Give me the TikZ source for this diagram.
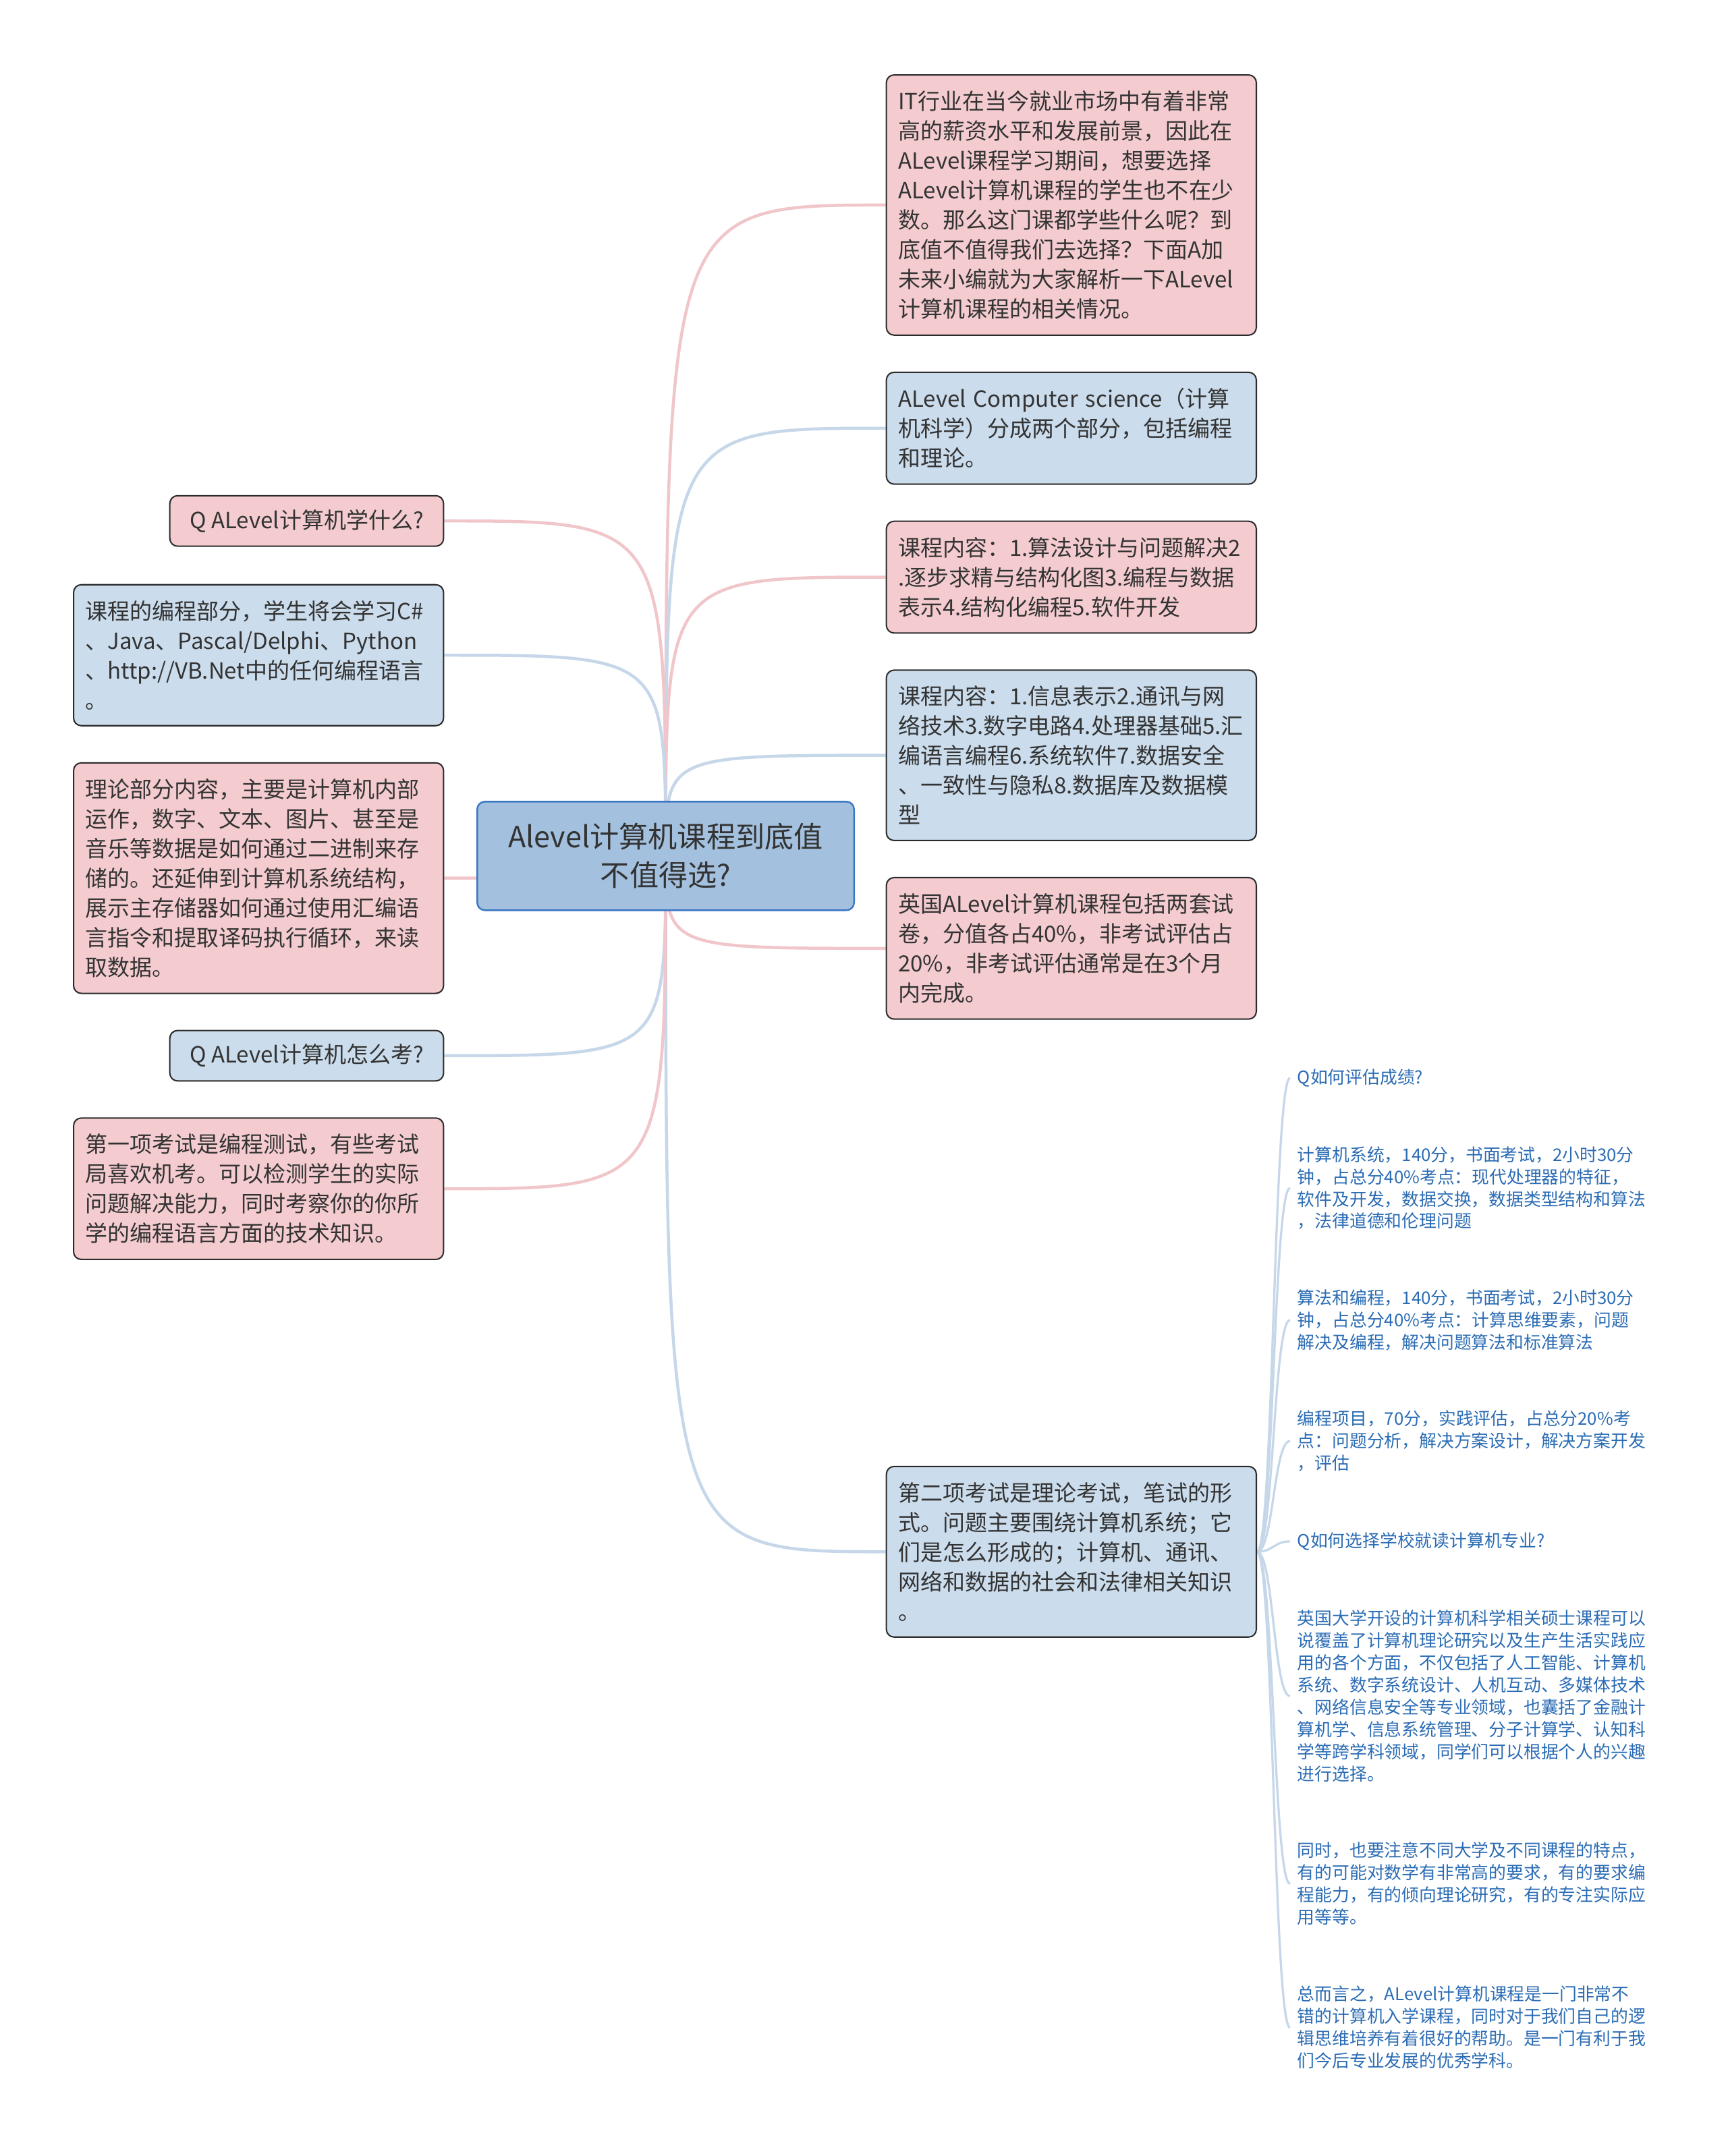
\documentclass[tikz,border=0pt]{standalone}
\usepackage{fontspec}
\setmainfont{Noto Sans CJK SC}
\usetikzlibrary{positioning, backgrounds}
\definecolor{pinkfill}{HTML}{F4CCCF}
\definecolor{bluefill}{HTML}{CBDCEC}
\definecolor{rootfill}{HTML}{A3C0DE}
\definecolor{rootline}{HTML}{3B77C4}
\definecolor{boxline}{HTML}{2B2B2B}
\definecolor{textdark}{HTML}{333333}
\definecolor{leafblue}{HTML}{2B6CB4}
\definecolor{pinkline}{HTML}{F0C6CA}
\definecolor{blueline}{HTML}{C5D7E9}

\begin{document}
\begin{tikzpicture}
    [
        x=0.5pt, y=-0.5pt, node distance=13pt,
        pink_box/.style={rectangle, rounded corners=2.8pt, draw=boxline, line width=0.5pt, fill=pinkfill, text=textdark, inner xsep=4.25pt, inner ysep=5pt, font=\fontsize{8.1pt}{10.8pt}\selectfont},
        blue_box/.style={pink_box, fill=bluefill},
        text_box/.style={text width=126pt, align=left, inner ysep=5.75pt},
        q_box/.style={minimum width=99.5pt},
        root_node/.style={rectangle, rounded corners=2.8pt, draw=rootline, line width=0.6pt, fill=rootfill, text=textdark, minimum width=137pt, minimum height=39.5pt, align=center, font=\fontsize{10.6pt}{14pt}\selectfont},
        leaf_node/.style={anchor=west, text=leafblue, inner xsep=2.5pt, inner ysep=0pt, text width=128pt, align=left, font=\fontsize{6.33pt}{8.07pt}\selectfont},
        pink_link/.style={draw=pinkline, line width=1.1pt},
        blue_link/.style={draw=blueline, line width=1.1pt},
        sub_link/.style={draw=blueline, line width=0.8pt},
    ]
        \useasboundingbox (0,0) rectangle (1256,1568) ;
        \node[root_node] (root) at (484,622.5) {Alevel计算机课程到底值\\不值得选?} ;
        \node[pink_box, text_box, anchor=north west] (it) at (644,54) {IT行业在当今就业市场中有着非常\\高的薪资水平和发展前景，因此在\\ALevel课程学习期间，想要选择\\ALevel计算机课程的学生也不在少\\数。那么这门课都学些什么呢？到\\底值不值得我们去选择？下面A加\\未来小编就为大家解析一下ALevel\\计算机课程的相关情况。} ;
        \node[blue_box, text_box] (cs) [below right=13pt and 0pt of it.south west] {ALevel Computer science（计算\\机科学）分成两个部分，包括编程\\和理论。} ;
        \node[pink_box, text_box] (c1) [below right=13pt and 0pt of cs.south west] {课程内容：1.算法设计与问题解决2\\.逐步求精与结构化图3.编程与数据\\表示4.结构化编程5.软件开发} ;
        \node[blue_box, text_box] (c2) [below right=13pt and 0pt of c1.south west] {课程内容：1.信息表示2.通讯与网\\络技术3.数字电路4.处理器基础5.汇\\编语言编程6.系统软件7.数据安全\\、一致性与隐私8.数据库及数据模\\型} ;
        \node[pink_box, text_box] (uk) [below right=13pt and 0pt of c2.south west] {英国ALevel计算机课程包括两套试\\卷，分值各占40\%，非考试评估占\\20\%，非考试评估通常是在3个月\\内完成。} ;
        \node[blue_box, text_box, anchor=north west] (ex2) at (644,1066) {第二项考试是理论考试，笔试的形\\式。问题主要围绕计算机系统；它\\们是怎么形成的；计算机、通讯、\\网络和数据的社会和法律相关知识\\。} ;
        \node[pink_box, q_box, anchor=north east] (q1) at (323,360) {Q ALevel计算机学什么?} ;
        \node[blue_box, text_box] (prog) [below left=13.5pt and 0pt of q1.south east] {课程的编程部分，学生将会学习C\#\\、Java、Pascal/Delphi、Python\\、http://VB.Net中的任何编程语言\\。} ;
        \node[pink_box, text_box] (theory) [below left=13pt and 0pt of prog.south east] {理论部分内容，主要是计算机内部\\运作，数字、文本、图片、甚至是\\音乐等数据是如何通过二进制来存\\储的。还延伸到计算机系统结构，\\展示主存储器如何通过使用汇编语\\言指令和提取译码执行循环，来读\\取数据。} ;
        \node[blue_box, q_box] (q2) [below left=13pt and 0pt of theory.south east] {Q ALevel计算机怎么考?} ;
        \node[pink_box, text_box] (ex1) [below left=13pt and 0pt of q2.south east] {第一项考试是编程测试，有些考试\\局喜欢机考。可以检测学生的实际\\问题解决能力，同时考察你的你所\\学的编程语言方面的技术知识。} ;
        \node[leaf_node] (l1) at (938,784) {Q如何评估成绩?} ;
        \node[leaf_node] (l2) at (938,864) {计算机系统，140分，书面考试，2小时30分\\钟，占总分40\%考点：现代处理器的特征，\\软件及开发，数据交换，数据类型结构和算法\\，法律道德和伦理问题} ;
        \node[leaf_node] (l3) at (938,960) {算法和编程，140分，书面考试，2小时30分\\钟，占总分40\%考点：计算思维要素，问题\\解决及编程，解决问题算法和标准算法} ;
        \node[leaf_node] (l4) at (938,1048) {编程项目，70分，实践评估，占总分20\%考\\点：问题分析，解决方案设计，解决方案开发\\，评估} ;
        \node[leaf_node] (l5) at (938,1121) {Q如何选择学校就读计算机专业?} ;
        \node[leaf_node] (l6) at (938,1233.5) {英国大学开设的计算机科学相关硕士课程可以\\说覆盖了计算机理论研究以及生产生活实践应\\用的各个方面，不仅包括了人工智能、计算机\\系统、数字系统设计、人机互动、多媒体技术\\、网络信息安全等专业领域，也囊括了金融计\\算机学、信息系统管理、分子计算学、认知科\\学等跨学科领域，同学们可以根据个人的兴趣\\进行选择。} ;
        \node[leaf_node] (l7) at (938,1370) {同时，也要注意不同大学及不同课程的特点，\\有的可能对数学有非常高的要求，有的要求编\\程能力，有的倾向理论研究，有的专注实际应\\用等等。} ;
        \node[leaf_node] (l8) at (938,1474.5) {总而言之，ALevel计算机课程是一门非常不\\错的计算机入学课程，同时对于我们自己的逻\\辑思维培养有着很好的帮助。是一门有利于我\\们今后专业发展的优秀学科。} ;
        \begin{scope}[on background layer]
            \fill[white] (0,0) rectangle (1256,1568) ;
            \draw[pink_link] (root.center) .. controls (root.center |- it.west) .. (it.west) ;
            \draw[blue_link] (root.center) .. controls (root.center |- cs.west) .. (cs.west) ;
            \draw[pink_link] (root.center) .. controls (root.center |- c1.west) .. (c1.west) ;
            \draw[blue_link] (root.center) .. controls (root.center |- c2.west) .. (c2.west) ;
            \draw[pink_link] (root.center) .. controls (root.center |- uk.west) .. (uk.west) ;
            \draw[blue_link] (root.center) .. controls (root.center |- ex2.west) .. (ex2.west) ;
            \draw[pink_link] (root.center) .. controls (root.center |- q1.east) .. (q1.east) ;
            \draw[blue_link] (root.center) .. controls (root.center |- prog.east) .. (prog.east) ;
            \draw[pink_link] (root.center) .. controls (root.center |- theory.east) .. (theory.east) ;
            \draw[blue_link] (root.center) .. controls (root.center |- q2.east) .. (q2.east) ;
            \draw[pink_link] (root.center) .. controls (root.center |- ex1.east) .. (ex1.east) ;
            \draw[sub_link] (ex2.east) .. controls +(12,0) and +(-12,0) .. (l1.west) ;
            \draw[sub_link] (ex2.east) .. controls +(12,0) and +(-12,0) .. (l2.west) ;
            \draw[sub_link] (ex2.east) .. controls +(12,0) and +(-12,0) .. (l3.west) ;
            \draw[sub_link] (ex2.east) .. controls +(12,0) and +(-12,0) .. (l4.west) ;
            \draw[sub_link] (ex2.east) .. controls +(12,0) and +(-12,0) .. (l5.west) ;
            \draw[sub_link] (ex2.east) .. controls +(12,0) and +(-12,0) .. (l6.west) ;
            \draw[sub_link] (ex2.east) .. controls +(12,0) and +(-12,0) .. (l7.west) ;
            \draw[sub_link] (ex2.east) .. controls +(12,0) and +(-12,0) .. (l8.west) ;
        \end{scope}
    \end{tikzpicture}
\end{document}
